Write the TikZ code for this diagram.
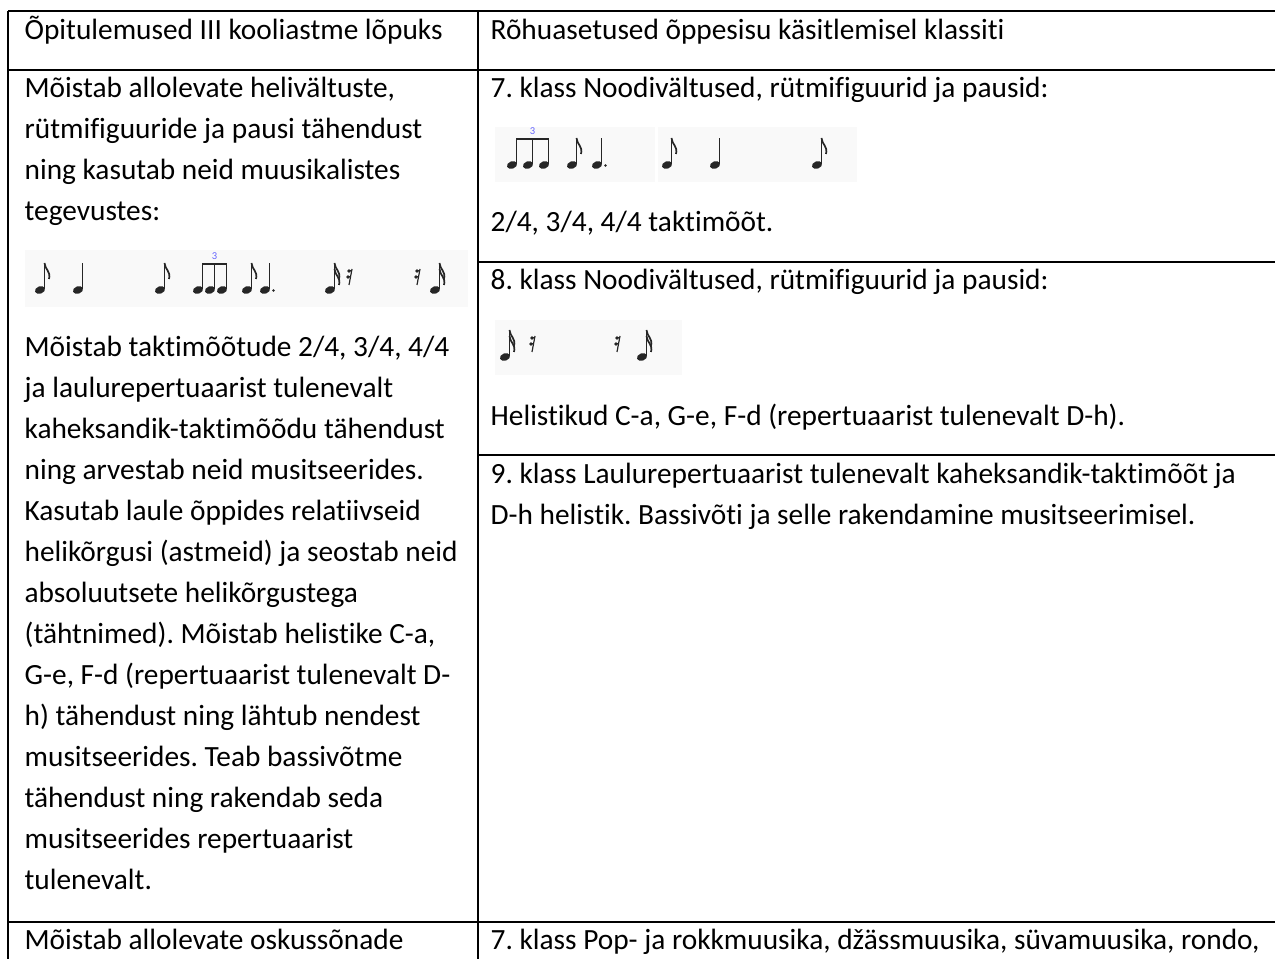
\documentclass[tikz,border=0pt]{standalone}
\usepackage{fontspec}
\setmainfont{Carlito}[Ligatures=NoCommon]
\usepackage{tikz}
\usetikzlibrary{positioning}
\frenchspacing

\begin{document}
\begin{tikzpicture}[x=0.38pt, y=-0.38pt, line width=0.5pt,
    cell/.style={anchor=base west, inner sep=0pt, align=flush left, text width=#1,
                 font=\fontsize{11.15}{15.58}\selectfont\frenchspacing},
    cell/.default=300pt,
    imgbg/.style={fill=black!2.5},
    stemline/.style={line width=0.45pt, draw=black!85},
    flagline/.style={line width=0.65pt, draw=black!85},
    beamline/.style={line width=1.1pt, draw=black!85},
    head/.pic={\fill[black!85, rotate=20] (0,0) ellipse [x radius=2pt, y radius=1.4pt];},
    crotchet/.pic={\pic {head}; \draw[stemline] (4.5,-1) -- (4.5,-27);},
    quaver/.pic={\pic {crotchet}; \draw[flagline] (4.5,-27) .. controls (5,-20) and (11,-19) .. (9,-11);},
    semiq/.pic={\pic {quaver}; \draw[flagline] (4.5,-21) .. controls (5,-14) and (11,-13) .. (9,-5);},
    dotcrot/.pic={\pic {crotchet}; \fill[black!85] (8.5,0.5) circle [radius=0.5pt];},
    srest/.pic={
        \draw[stemline] (2,-21) -- (-1,-5);
        \fill[black!85] (-1,-19) circle [radius=0.7pt] (-2,-13) circle [radius=0.7pt];
        \draw[stemline] (-1,-19) -- (1.8,-19.5) (-2,-13) -- (0.6,-13.5);},
    trip/.pic={
        \foreach \k in {0,1,2} {\pic at (\k*#1,0) {crotchet};}
        \draw[beamline] (4.3,-26) -- (2*#1+4.7,-26);
        \node (three) at (#1+4.5,-34) [inner sep=0pt, text=blue!60, font=\fontsize{4}{4}\selectfont] {3};}
]

    \useasboundingbox (0,0) rectangle (1275,959);

    % Table rules
    \draw (8,11) -- (1275,11);
    \draw (8,70) -- (1275,70);
    \draw (478,262) -- (1275,262);
    \draw (478,455) -- (1275,455);
    \draw (8,922) -- (1275,922);
    \draw (8,11) -- (8,959);
    \draw (478,11) -- (478,959);

    % Header row
    \node[cell] (headL) at (24,40) {Õpitulemused III kooliastme lõpuks};
    \node[cell] (headR) at (490,40) {Rõhuasetused õppesisu käsitlemisel klassiti};

    % Left cell
    \node[cell=180pt] (leftA) at (24,98) {Mõistab allolevate helivältuste,\\
        rütmifiguuride ja pausi tähendust\\
        ning kasutab neid muusikalistes\\
        tegevustes:};

    \fill[imgbg] (25,250) rectangle (468,307);
    \pic at (40,290) {quaver};
    \pic at (78,290) {crotchet};
    \pic at (160,290) {quaver};
    \pic at (198,290) {trip=12};
    \pic at (247,290) {quaver};
    \pic at (265,290) {dotcrot};
    \pic at (330,290) {semiq};
    \pic at (350,290) {srest};
    \pic at (418,290) {srest};
    \pic at (435,290) {semiq};

    \node[cell=180pt] (leftB) at (24,357) {Mõistab taktimõõtude 2/4, 3/4, 4/4\\
        ja laulurepertuaarist tulenevalt\\
        kaheksandik-taktimõõdu tähendust\\
        ning arvestab neid musitseerides.\\
        Kasutab laule õppides relatiivseid\\
        helikõrgusi (astmeid) ja seostab neid\\
        absoluutsete helikõrgustega\\
        (tähtnimed). Mõistab helistike C-a,\\
        G-e, F-d (repertuaarist tulenevalt D-\\
        h) tähendust ning lähtub nendest\\
        musitseerides. Teab bassivõtme\\
        tähendust ning rakendab seda\\
        musitseerides repertuaarist\\
        tulenevalt.};

    % Right cells
    \node[cell] (k7) at (490,98) {7. klass Noodivältused, rütmifiguurid ja pausid:};
    \fill[imgbg] (495,127) rectangle (655,182);
    \fill[imgbg] (658,127) rectangle (857,182);
    \pic at (512,165) {trip=16};
    \pic at (572,165) {quaver};
    \pic at (597,165) {dotcrot};
    \pic at (667,165) {quaver};
    \pic at (715,165) {crotchet};
    \pic at (817,165) {quaver};
    \node[cell] (k7b) at (490,232) {2/4, 3/4, 4/4 taktimõõt.};

    \node[cell] (k8) at (490,290) {8. klass Noodivältused, rütmifiguurid ja pausid:};
    \fill[imgbg] (495,320) rectangle (682,375);
    \pic at (505,357) {semiq};
    \pic at (533,357) {srest};
    \pic at (618,357) {srest};
    \pic at (642,357) {semiq};
    \node[cell] (k8b) at (490,426) {Helistikud C-a, G-e, F-d (repertuaarist tulenevalt D-h).};

    \node[cell] (k9) at (490,484) {9. klass Laulurepertuaarist tulenevalt kaheksandik-taktimõõt ja\\
        D-h helistik. Bassivõti ja selle rakendamine musitseerimisel.};

    % Next row
    \node[cell] (nextL) at (24,950) {Mõistab allolevate oskussõnade};
    \node[cell] (nextR) at (490,950) {7. klass Pop- ja rokkmuusika, džässmuusika, süvamuusika, rondo,};

\end{tikzpicture}
\end{document}
